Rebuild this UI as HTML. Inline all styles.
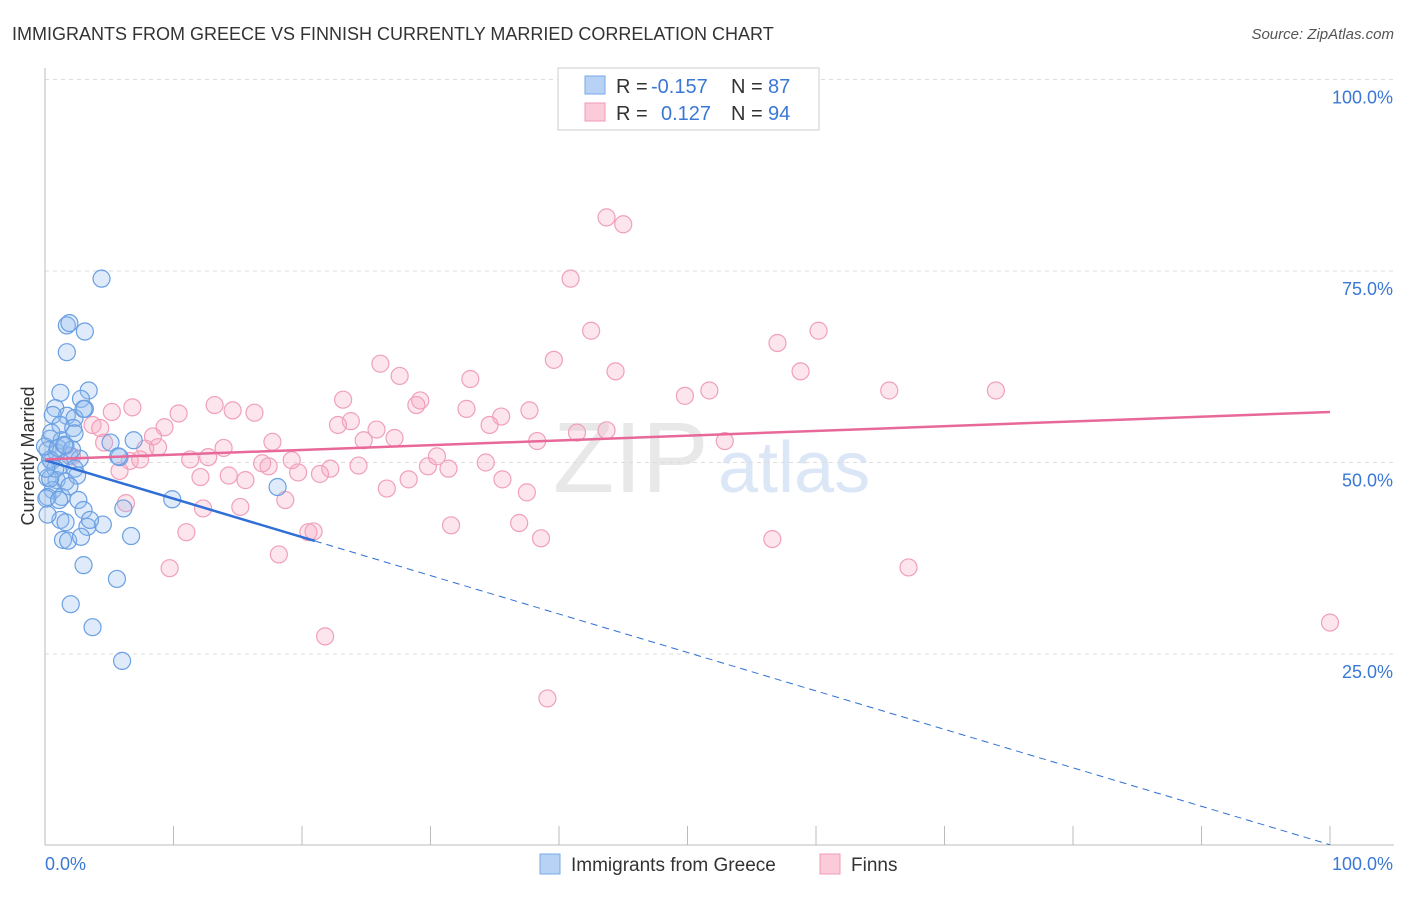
<!DOCTYPE html>
<html><head><meta charset="utf-8"><style>
body{margin:0;background:#fff;font-family:"Liberation Sans",sans-serif}
svg text{font-family:"Liberation Sans",sans-serif}
</style></head><body>
<svg id="chart" width="1406" height="892">
<text x="12" y="40" font-size="18" fill="#333">IMMIGRANTS FROM GREECE VS FINNISH CURRENTLY MARRIED CORRELATION CHART</text>
<text x="1394" y="39" font-size="15" fill="#555" font-style="italic" text-anchor="end">Source: ZipAtlas.com</text>
<text x="34" y="456" font-size="18" fill="#333" text-anchor="middle" transform="rotate(-90 34 456)">Currently Married</text>
<text x="553" y="492" font-size="100" fill="#e8e8e8" font-family="Liberation Serif">ZIP</text>
<text x="718" y="492" font-size="72" fill="#dbe7f6">atlas</text>
<g id="grid"></g><g id="pink"></g><g id="blue"></g><g id="lines"></g>
<g>
<rect x="558" y="68" width="261" height="62" fill="#fff" stroke="#ccc"/>
<rect x="585" y="76" width="20" height="18" fill="#b7d2f5" stroke="#7aa9e6"/>
<rect x="585" y="103" width="20" height="18" fill="#fbcbd9" stroke="#f09ab5"/>
<text x="616" y="93" font-size="20" fill="#333">R =</text>
<text x="651" y="93" font-size="20" fill="#3a78d6">-0.157</text>
<text x="731" y="93" font-size="20" fill="#333">N =</text>
<text x="768" y="93" font-size="20" fill="#3a78d6">87</text>
<text x="616" y="120" font-size="20" fill="#333">R =</text>
<text x="661" y="120" font-size="20" fill="#3a78d6">0.127</text>
<text x="731" y="120" font-size="20" fill="#333">N =</text>
<text x="768" y="120" font-size="20" fill="#3a78d6">94</text>
</g>
<g>
<rect x="540" y="854" width="20" height="20" fill="#b7d2f5" stroke="#7aa9e6"/>
<text x="571" y="871" font-size="19" fill="#333">Immigrants from Greece</text>
<rect x="820" y="854" width="20" height="20" fill="#fbcbd9" stroke="#f09ab5"/>
<text x="851" y="871" font-size="19" fill="#333">Finns</text>
</g>
</svg>
<script>
const blueX=[4.4,1.7,1.9,3.1,1.7,1.2,3.4,2.8,0.8,3.1,1.7,2.3,3.0,0.6,1.2,2.2,0.4,1.3,2.3,5.1,6.9,0.2,0.9,1.9,2.7,5.8,0.5,1.2,2.3,0.2,0.9,1.6,2.5,0.6,1.3,2.6,0.2,3.0,1.2,1.6,4.5,3.3,0.2,1.4,1.8,2.8,6.7,9.9,6.1,18.1,5.7,3.0,5.6,2.0,3.7,6.0,0.4,0.8,0,1.0,1.6,2.1,0.4,0.1,1.1,1.9,3.5,0.5,1.5,0.1];
const blueY=[74,67.9,68.2,67.1,64.4,59.1,59.4,58.3,57.1,57.0,56.1,55.8,57.0,56.2,54.9,54.5,53.1,52.9,53.8,52.6,52.9,51.6,51.3,50.9,50.5,50.7,50.2,49.6,49.2,48.0,47.7,47.5,48.3,46.4,45.5,45.1,45.5,43.8,42.5,42.2,41.9,41.6,43.2,39.9,39.8,40.3,40.4,45.2,44.0,46.8,50.8,36.6,34.8,31.5,28.5,24.1,50.4,49.2,52.1,51.9,52.2,51.7,47.9,45.3,45.1,46.9,42.5,53.9,52.3,49.2];
const pinkX=[43.7,45,40.9,42.5,60.2,57.0,39.6,26.1,44.4,58.8,27.6,33.1,51.7,65.7,74.0,23.2,29.2,49.8,13.2,6.8,14.6,5.2,16.3,28.9,32.8,37.7,35.5,10.4,23.8,22.8,25.8,34.6,9.3,3.7,8.4,24.8,27.2,38.3,52.9,43.7,41.4,13.9,17.7,7.8,8.8,4.6,6.6,11.3,12.7,16.9,19.2,7.4,5.8,14.3,12.1,17.4,19.7,22.2,24.4,29.8,31.4,34.3,30.5,35.6,28.3,15.6,21.4,26.6,37.5,6.3,15.2,12.3,18.7,11.0,20.5,20.9,31.6,36.9,38.6,56.6,9.7,18.2,67.2,21.8,39.1,100,4.3,2.1];
const pinkY=[82,81.1,74,67.2,67.2,65.6,63.4,62.9,61.9,61.9,61.3,60.9,59.4,59.4,59.4,58.2,58.1,58.7,57.5,57.2,56.8,56.6,56.5,57.5,57.0,56.8,56.0,56.4,55.4,54.9,54.3,54.9,54.6,54.9,53.4,52.9,53.2,52.8,52.8,54.2,53.9,51.9,52.7,51.8,52.0,52.6,50.2,50.4,50.7,49.9,50.3,50.4,48.9,48.3,48.1,49.5,48.7,49.2,49.6,49.5,49.2,50.0,50.8,47.8,47.8,47.7,48.5,46.6,46.1,44.7,44.2,44.0,45.1,40.9,40.9,41.0,41.8,42.1,40.1,40.0,36.2,38.0,36.3,27.3,19.2,29.1,54.5,50.8];
const blueLine=[50.3,0.1], pinkLine=[50.4,56.6];
const yTicks=[25,50,75,100];
const sx=v=>45+v*12.85, sy=v=>845.5-v*7.66;
const NS="http://www.w3.org/2000/svg";
function mk(tag,attrs,parent){const e=document.createElementNS(NS,tag);for(const k in attrs)e.setAttribute(k,attrs[k]);document.getElementById(parent).appendChild(e);return e;}
yTicks.forEach(t=>{
 const l=mk('line',{x1:45,x2:1394,y1:sy(t),y2:sy(t),stroke:'#ddd','stroke-dasharray':'4,4'},'grid');
 
 
 const tx=mk('text',{x:1393,y:sy(t)+24,'font-size':18,fill:'#3a78d6','text-anchor':'end'},'grid');
 tx.textContent=t.toFixed(1)+'%';
 
 
});
mk('line',{x1:45,x2:45,y1:68,y2:845,stroke:'#bbb'},'grid');
mk('line',{x1:45,x2:1394,y1:845,y2:845,stroke:'#bbb'},'grid');
for(let i=1;i<=10;i++){mk('line',{x1:45+i*128.5,x2:45+i*128.5,y1:826,y2:845,stroke:'#bbb'},'grid');}
const x0=mk('text',{x:45,y:870,'font-size':18,fill:'#3a78d6'},'grid');x0.textContent='0.0%';


const x1=mk('text',{x:1393,y:870,'font-size':18,fill:'#3a78d6','text-anchor':'end'},'grid');x1.textContent='100.0%';


pinkX.forEach((v,i)=>{const c=mk('circle',{cx:sx(v),cy:sy(pinkY[i]),r:8.5,fill:'rgba(247,170,195,0.3)',stroke:'#f0a0b9','stroke-width':1.2},'pink');
 
 });
blueX.forEach((v,i)=>{const c=mk('circle',{cx:sx(v),cy:sy(blueY[i]),r:8.5,fill:'rgba(150,190,240,0.3)',stroke:'#6a9fe2','stroke-width':1.2},'blue');
 
 });
const by=x=>blueLine[0]+(blueLine[1]-blueLine[0])*x/100;
const bl=mk('line',{x1:sx(0),y1:sy(by(0)),x2:sx(21),y2:sy(by(21)),stroke:'#2f6fd6','stroke-width':2.5},'lines');


const bd=mk('line',{x1:sx(21),y1:sy(by(21)),x2:sx(100),y2:sy(by(100)),stroke:'#2f6fd6','stroke-width':1,'stroke-dasharray':'7,5'},'lines');


const pl=mk('line',{x1:sx(0),y1:sy(pinkLine[0]),x2:sx(100),y2:sy(pinkLine[1]),stroke:'#e8689a','stroke-width':2.5},'lines');


</script>
</body></html>
